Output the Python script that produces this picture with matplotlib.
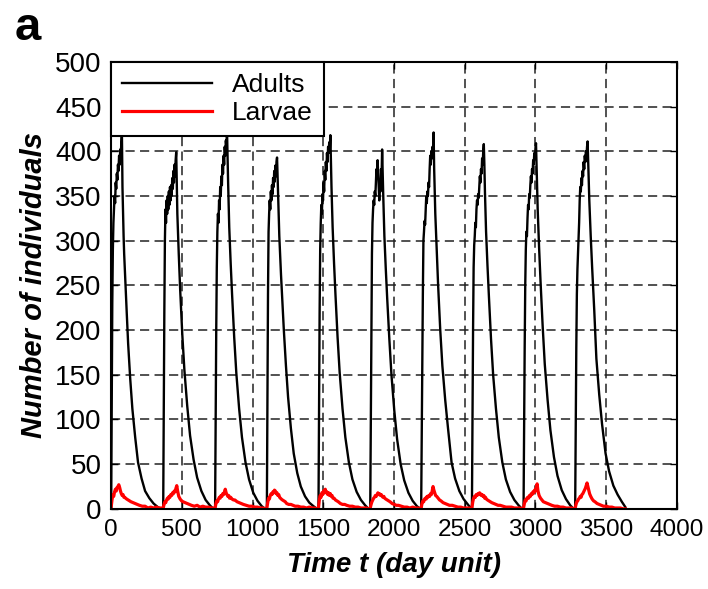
import matplotlib
matplotlib.use("Agg")
import matplotlib.pyplot as plt

# ---- data ----
# day at which each yearly outbreak starts
cycle_start = [0, 368, 735, 1101, 1466, 1832, 2192, 2551, 2916, 3281]

# adults: days after the start of each cycle
adult_offset = [0, 4, 8, 12, 16, 20, 24, 28, 32, 36, 40, 44, 48, 52, 56, 60, 64, 68, 72,
                76, 80, 84, 88, 92, 100, 110, 120, 135, 150, 170, 190, 215, 240, 270,
                300, 330, 355]

adults_c1 = [0, 120, 230, 290, 320, 335, 350, 342, 365, 358, 375, 368, 385, 378, 395, 385,
             402, 395, 410, 421, 360, 330, 305, 285, 255, 220, 185, 145, 112, 80, 52, 34,
             20, 12, 6, 2, 0]
adults_c2 = [0, 110, 220, 300, 335, 320, 345, 330, 350, 335, 355, 340, 360, 345, 362, 350,
             370, 358, 378, 365, 385, 372, 390, 399, 330, 285, 245, 195, 155, 115, 82, 55,
             35, 20, 10, 4, 0]
adults_c3 = [0, 100, 200, 270, 310, 330, 320, 345, 335, 360, 350, 372, 362, 385, 375, 395,
             385, 405, 395, 412, 405, 425, 395, 365, 315, 275, 240, 192, 152, 112, 80, 52,
             33, 18, 9, 3, 0]
adults_c4 = [0, 120, 240, 310, 330, 345, 335, 355, 345, 362, 352, 370, 360, 378, 366, 384,
             372, 388, 393, 370, 345, 325, 305, 290, 262, 230, 200, 160, 125, 90, 62, 40,
             25, 14, 7, 3, 0]
adults_c5 = [0, 110, 220, 290, 320, 340, 330, 352, 345, 365, 355, 378, 368, 388, 378, 398,
             388, 405, 398, 410, 402, 418, 390, 360, 315, 275, 240, 192, 152, 112, 80, 52,
             33, 19, 10, 4, 0]
adults_c6 = [0, 100, 210, 285, 320, 335, 345, 340, 355, 350, 365, 380, 372, 390, 375, 360,
             345, 365, 355, 380, 370, 402, 375, 350, 305, 268, 235, 190, 150, 110, 78, 50,
             32, 18, 9, 3, 0]
adults_c7 = [0, 80, 160, 240, 300, 310, 322, 318, 335, 350, 342, 355, 350, 365, 360, 380,
             395, 385, 400, 392, 405, 398, 421, 380, 330, 290, 250, 200, 160, 122, 90, 52,
             34, 20, 11, 5, 0]
adults_c8 = [0, 100, 200, 270, 295, 305, 320, 315, 335, 345, 340, 352, 348, 360, 372, 365,
             380, 375, 392, 385, 400, 408, 385, 355, 310, 272, 238, 190, 150, 112, 80, 52,
             33, 19, 10, 4, 0]
adults_c9 = [0, 90, 180, 250, 290, 310, 305, 325, 340, 335, 352, 348, 362, 372, 365, 380,
             375, 390, 385, 398, 392, 402, 409, 385, 335, 292, 255, 205, 162, 122, 88, 58,
             37, 21, 11, 4, 0]
adults_c10 = [0, 90, 180, 240, 268, 285, 300, 320, 345, 360, 355, 370, 362, 378, 372, 388,
              380, 395, 388, 400, 394, 405, 411, 390, 345, 305, 270, 222, 168, 128, 95, 62,
              42, 26, 16, 8, 2]

# larvae: days after the start of each cycle
larvae_offset = [0, 6, 12, 18, 24, 30, 36, 42, 48, 54, 60, 66, 72, 78, 84, 90, 96, 102,
                 110, 120, 130, 140, 155, 170, 185, 200, 220, 240, 260, 280, 300, 320, 340, 355]

larvae_c1 = [2, 10, 16, 14, 19, 22, 20, 24, 25, 27, 24, 20, 17, 15, 16, 13, 13, 12, 11, 10,
             9, 8, 7, 6, 5, 4, 3, 3, 1, 2, 1, 2, 1, 1]
larvae_c2 = [1, 5, 8, 7, 10, 12, 11, 14, 13, 16, 15, 18, 17, 20, 19, 23, 26, 20, 14, 11,
             9, 8, 7, 6, 5, 4, 3, 4, 2, 3, 2, 2, 1, 1]
larvae_c3 = [1, 6, 9, 8, 11, 13, 12, 15, 14, 17, 16, 19, 22, 18, 16, 14, 15, 12, 13, 11,
             10, 10, 8, 7, 6, 5, 4, 3, 3, 2, 2, 1, 1, 0]
larvae_c4 = [1, 7, 12, 11, 15, 17, 16, 19, 18, 21, 20, 17, 18, 15, 16, 13, 12, 11, 10, 9,
             8, 6, 5, 5, 4, 3, 3, 2, 2, 1, 2, 1, 1, 0]
larvae_c5 = [1, 10, 15, 13, 18, 16, 20, 18, 22, 18, 19, 16, 18, 15, 17, 14, 15, 12, 12, 10,
             9, 8, 6, 5, 5, 4, 3, 3, 2, 2, 1, 1, 1, 0]
larvae_c6 = [1, 5, 8, 10, 12, 13, 15, 14, 16, 18, 16, 17, 15, 16, 14, 13, 14, 12, 11, 10,
             9, 8, 6, 5, 4, 4, 3, 2, 2, 1, 2, 1, 1, 0]
larvae_c7 = [1, 6, 9, 8, 11, 12, 11, 14, 13, 15, 14, 17, 16, 20, 25, 21, 18, 15, 14, 12,
             10, 9, 7, 6, 5, 4, 4, 3, 2, 2, 1, 1, 1, 0]
larvae_c8 = [1, 8, 12, 14, 13, 16, 15, 17, 16, 18, 17, 15, 16, 14, 15, 12, 13, 11, 10, 9,
             8, 7, 6, 5, 4, 4, 3, 2, 2, 2, 1, 1, 1, 0]
larvae_c9 = [1, 6, 10, 9, 12, 13, 12, 15, 14, 17, 16, 19, 18, 21, 20, 24, 28, 20, 15, 12,
             10, 8, 7, 6, 5, 4, 3, 3, 2, 2, 1, 1, 1, 0]
larvae_c10 = [1, 5, 8, 9, 11, 12, 14, 13, 16, 17, 19, 21, 23, 26, 29, 25, 21, 17, 14, 11,
              9, 8, 6, 5, 4, 3, 3, 2, 2, 1, 1, 1, 0, 0]

adults_cycles = [adults_c1, adults_c2, adults_c3, adults_c4, adults_c5,
                 adults_c6, adults_c7, adults_c8, adults_c9, adults_c10]
larvae_cycles = [larvae_c1, larvae_c2, larvae_c3, larvae_c4, larvae_c5,
                 larvae_c6, larvae_c7, larvae_c8, larvae_c9, larvae_c10]

# put the cycles one after the other on the time axis
t_adults, n_adults, t_larvae, n_larvae = [], [], [], []
for s, a, l in zip(cycle_start, adults_cycles, larvae_cycles):
    t_adults += [s + d for d in adult_offset]
    n_adults += a
    t_larvae += [s + d for d in larvae_offset]
    n_larvae += l

# ---- plot ----
plt.rcParams['font.family'] = ['Liberation Sans', 'DejaVu Sans']

fig = plt.figure(figsize=(7.08, 5.89), dpi=100)
ax = fig.add_axes([0.157, 0.136, 0.799, 0.759])

ax.plot(t_adults, n_adults, color="black", lw=1.7, label="Adults")
ax.plot(t_larvae, n_larvae, color="red", lw=2.3, label="Larvae")

ax.set_xlim(0, 4000)
ax.set_ylim(0, 500)
ax.set_xticks(range(0, 4001, 500))
ax.set_yticks(range(0, 501, 50))
ax.grid(True, color="#222222", linestyle=(0, (6, 3.5)), lw=1.1)
ax.tick_params(direction="in", top=True, right=True, length=5, width=1, pad=7)
ax.tick_params(axis="x", labelsize=17.5)
ax.tick_params(axis="y", labelsize=20)
for sp in ax.spines.values():
    sp.set_linewidth(1.5)

ax.set_xlabel("Time t (day unit)", fontsize=20, fontweight="bold", fontstyle="italic",
              labelpad=8)
ax.set_ylabel("Number of individuals", fontsize=21, fontweight="bold", fontstyle="italic",
              labelpad=5)

leg = ax.legend(loc="upper left", borderaxespad=0, fancybox=False, edgecolor="black",
                framealpha=1, fontsize=19, handlelength=3.4, borderpad=0.42,
                labelspacing=0.15, handletextpad=0.75)
leg.get_frame().set_linewidth(1.5)

fig.text(0.02, 0.99, "a", fontsize=34, fontweight="bold", va="top")

plt.savefig("out.png", dpi=100)
